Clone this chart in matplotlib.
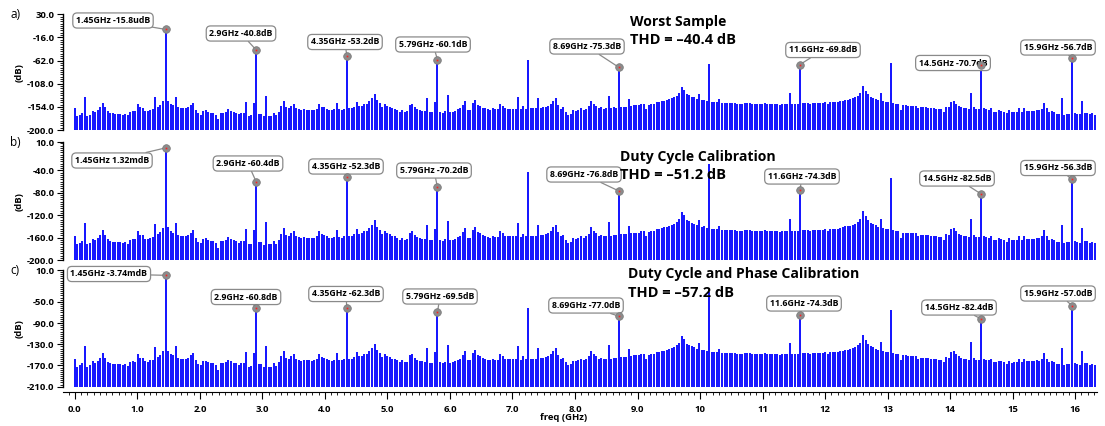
import numpy as np
import matplotlib.pyplot as plt
from matplotlib.ticker import FixedLocator, MultipleLocator, AutoMinorLocator

plt.rcParams['font.family'] = ['Open Sans', 'DejaVu Sans']

# FFT bin spacing in GHz (fundamental 1.45 GHz sits in bin 36)
bin_ghz = 1.45 / 36

# noise floor, one value per bin (None = tone bin)
floor_db = [
    -157, -172, -170, -166, -134, -172, -170, -162, -165, -161,
    -155, -147, -155, -163, -166, -167, -168, -168, -168, -170,
    -168, -171, -164, -162, -163, -149, -155, -156, -162, -163,
    -160, -159, -135, -154, -150, -143, None, -142, -149, -151,
    -134, -155, -157, -157, -157, -155, -151, -146, -160, -167,
    -170, -162, -161, -164, -166, -166, -170, -178, -166, -166,
    -164, -159, -162, -165, -166, -169, -166, -166, -145, -172,
    -171, -146, None, -168, -168, -173, -133, -172, -172, -166,
    -171, -164, -153, -143, -155, -157, -152, -149, -157, -159,
    -161, -159, -160, -160, -161, -160, -158, -149, -154, -155,
    -158, -160, -161, -159, -147, -159, -160, -158, None, -157,
    -157, -154, -144, -153, -152, -149, -148, -143, -137, -129,
    -141, -147, -154, -148, -152, -154, -157, -158, -160, -164,
    -160, -164, -163, -151, -149, -155, -159, -161, -162, -163,
    -137, -165, -165, -145, None, -164, -166, -163, -131, -165,
    -164, -162, -159, -157, -150, -143, -160, -160, -147, -141,
    -150, -152, -156, -157, -159, -160, -157, -159, -159, -148,
    -152, -157, -158, -158, -158, -158, -134, -159, -153, -158,
    None, -157, -157, -157, -137, -156, -155, -154, -152, -149,
    -142, -137, -150, -158, -155, -164, -170, -168, -161, -162,
    -160, -157, -160, -158, -153, -142, -148, -152, -157, -155,
    -158, -157, -132, -157, -155, -156, None, -154, -154, -154,
    -139, -152, -151, -151, -151, -149, -148, -158, -150, -148,
    -148, -145, -145, -143, -142, -141, -139, -137, -135, -132,
    -127, -114, -120, -129, -131, -134, -135, -138, -128, -141,
    -140, -143, None, -144, -144, -145, -139, -146, -146, -147,
    -147, -147, -147, -149, -149, -149, -147, -146, -147, -148,
    -148, -149, -149, -149, -147, -148, -148, -148, -149, -148,
    -150, -148, -148, -149, -127, -149, -149, -149, None, -147,
    -147, -147, -149, -147, -147, -147, -147, -146, -145, -148,
    -145, -145, -144, -144, -143, -142, -140, -140, -139, -137,
    -135, -132, -127, -113, -122, -129, -134, -136, -138, -141,
    -126, -143, -144, -145, None, -147, -148, -148, -160, -151,
    -151, -152, -152, -152, -152, -157, -155, -155, -155, -156,
    -157, -157, -158, -159, -159, -164, -154, -155, -144, -143,
    -149, -153, -155, -157, -157, -159, -126, -155, -159, -159,
    None, -157, -159, -160, -157, -164, -164, -161, -162, -164,
    -167, -161, -165, -164, -164, -157, -164, -157, -162, -162,
    -162, -162, -160, -161, -158, -147, -157, -164, -162, -164,
    -168, -168, -137, -170, -168, -168, None, -166, -168, -169,
    -143, -166, -166, -169, -167, -170,
]

# harmonic bins 1..11 and their levels in each panel
tone_bins = [36, 72, 108, 144, 180, 216, 252, 288, 324, 360, 396]
tone_a = [0.0, -40.8, -53.2, -60.1, -61.0, -75.3, -68.0, -69.8, -67.0, -70.7, -56.7]
tone_b = [0.0, -60.4, -52.3, -70.2, -43.0, -76.8, -29.0, -74.3, -54.0, -82.5, -56.3]
tone_c = [0.0, -60.8, -62.3, -69.5, -62.0, -77.0, -32.0, -74.3, -65.0, -82.4, -57.0]

# which harmonics get a marker + label
marked = [0, 1, 2, 3, 5, 7, 9, 10]
labels_a = ["1.45GHz -15.8udB", "2.9GHz -40.8dB", "4.35GHz -53.2dB", "5.79GHz -60.1dB",
            "8.69GHz -75.3dB", "11.6GHz -69.8dB", "14.5GHz -70.7dB", "15.9GHz -56.7dB"]
labels_b = ["1.45GHz 1.32mdB", "2.9GHz -60.4dB", "4.35GHz -52.3dB", "5.79GHz -70.2dB",
            "8.69GHz -76.8dB", "11.6GHz -74.3dB", "14.5GHz -82.5dB", "15.9GHz -56.3dB"]
labels_c = ["1.45GHz -3.74mdB", "2.9GHz -60.8dB", "4.35GHz -62.3dB", "5.79GHz -69.5dB",
            "8.69GHz -77.0dB", "11.6GHz -74.3dB", "14.5GHz -82.4dB", "15.9GHz -57.0dB"]

yticks_a = [30, -16, -62, -108, -154, -200]
yticks_b = [10, -40, -80, -120, -160, -200]
yticks_c = [10, -50, -90, -130, -170, -210]

titles = [("Worst Sample", "THD = \u201340.4 dB"),
          ("Duty Cycle Calibration", "THD = \u201351.2 dB"),
          ("Duty Cycle and Phase Calibration", "THD = \u201357.2 dB")]

xticks = list(range(17))
xticklabels = ["0.0", "1.0", "2.0", "3.0", "4.0", "5.0", "6.0", "7.0", "8.0", "9.0",
               "10", "11", "12", "13", "14", "15", "16"]

# ---- layout (figure pixels, measured from the top) ----
W, H = 1105, 426
axes_px = [(14.3, 130.0), (142.3, 260.0), (270.0, 386.7)]
box_px = [
    [(113, 20.5), (241, 33.5), (345, 42), (433, 44.5), (587, 46.5), (823, 50), (953, 63), (1058, 47.5)],
    [(112, 160.5), (248, 163.5), (346, 166.5), (434, 170.5), (584, 174.5), (802, 176.5), (957, 178.5), (1058, 168)],
    [(109, 274), (246, 297), (346, 294), (440, 296.5), (586, 305.5), (804, 303.5), (959, 307.5), (1058, 293.5)],
]
title_px = [(630, 22, 40), (620, 157, 175), (628, 274, 293)]

freqs = np.arange(len(floor_db)) * bin_ghz
panels = [(tone_a, labels_a, yticks_a, "a)"),
          (tone_b, labels_b, yticks_b, "b)"),
          (tone_c, labels_c, yticks_c, "c)")]

fig = plt.figure(figsize=(W / 100, H / 100), dpi=100)
blue = '#0000ff'
grey = '#8a8a8a'

for i, (tones, labels, yt, letter) in enumerate(panels):
    top, bot = axes_px[i]
    ax = fig.add_axes([63 / W, 1 - bot / H, (1097 - 63) / W, (bot - top) / H])
    spec = np.array([np.nan if v is None else v for v in floor_db], dtype=float)
    for b, v in zip(tone_bins, tones):
        spec[b] = v
    ylo, yhi = yt[-1], yt[0]
    ax.vlines(freqs, ylo, spec, colors=blue, lw=1.3)
    ax.set_ylim(ylo, yhi)
    ax.set_xlim(-0.19, 16.35)

    ax.yaxis.set_major_locator(FixedLocator(yt))
    ax.set_yticklabels(["%.1f" % v for v in yt], fontsize=6.8, fontweight='bold')
    ax.yaxis.set_minor_locator(AutoMinorLocator(10))
    ax.tick_params(axis='y', which='major', length=4, width=0.8, pad=2)
    ax.tick_params(axis='y', which='minor', length=2.2, width=0.6)
    for s in ['top', 'right']:
        ax.spines[s].set_visible(False)
    ax.spines['left'].set_linewidth(1.0)

    if i < 2:
        ax.spines['bottom'].set_visible(False)
        ax.set_xticks([])
    else:
        ax.spines['bottom'].set_position(('outward', 4))
        ax.set_xticks(xticks)
        ax.set_xticklabels(xticklabels, fontsize=6.8, fontweight='bold')
        ax.xaxis.set_minor_locator(MultipleLocator(0.1))
        ax.tick_params(axis='x', which='major', length=5, width=0.8, pad=4)
        ax.tick_params(axis='x', which='minor', length=2.5, width=0.6)

    # markers and callout boxes on the labelled harmonics
    for j, h in enumerate(marked):
        f = tone_bins[h] * bin_ghz
        v = tones[h]
        cx, cy = box_px[i][j]
        ax.annotate(labels[j], xy=(f, v), xycoords='data',
                    xytext=(cx, H - cy), textcoords='figure pixels',
                    ha='center', va='center', fontsize=6.3, fontweight='bold',
                    bbox=dict(boxstyle='round,pad=0.35,rounding_size=0.5', fc='white', ec=grey, lw=0.9),
                    arrowprops=dict(arrowstyle='-', color=grey, lw=0.9, shrinkA=0, shrinkB=0),
                    zorder=4, annotation_clip=False)
        ax.plot(f, v, 'o', ms=5.5, mfc='#8c8c8c', mec='#777777', mew=0.5, zorder=6, clip_on=False)
        ax.plot(f, v, 's', ms=1.2, mfc='#ff2020', mec='none', zorder=7, clip_on=False)

    tx, ty1, ty2 = title_px[i]
    fig.text(tx / W, 1 - ty1 / H, titles[i][0], fontsize=10.1, fontweight='bold', va='center', ha='left')
    fig.text(tx / W, 1 - ty2 / H, titles[i][1], fontsize=10.5, fontweight='bold', va='center', ha='left')

    fig.text(10 / W, 1 - top / H, letter, fontsize=8.5, va='center', ha='left')
    fig.text(19 / W, 1 - (top + bot) / 2 / H, "(dB)", fontsize=6.8, fontweight='bold',
             rotation=90, va='center', ha='center')

fig.text(564 / W, 1 - 418 / H, "freq (GHz)", fontsize=6.8, fontweight='bold', ha='center', va='center')

fig.savefig("out.png", dpi=100)
